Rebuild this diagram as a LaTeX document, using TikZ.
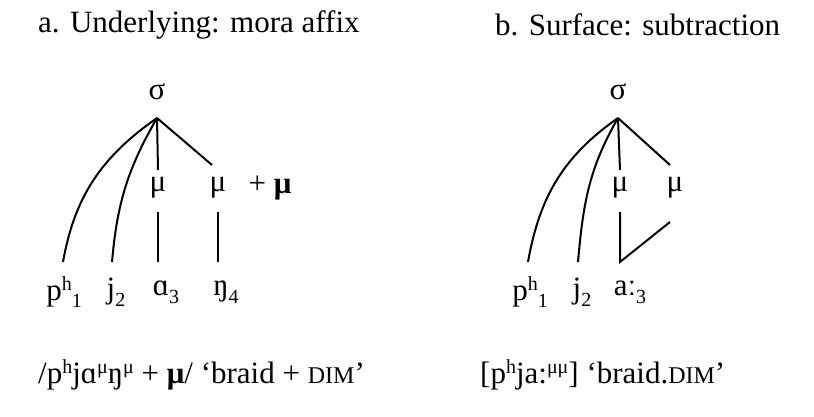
\documentclass[tikz,border=0pt]{standalone}
\usepackage{fontspec}
\setmainfont{Liberation Serif}
\usetikzlibrary{positioning}
\newcommand{\subs}[1]{\raisebox{-0.55ex}{\fontsize{20}{22}\selectfont #1}}
\newcommand{\sups}[1]{\raisebox{0.7ex}{\fontsize{20}{22}\selectfont #1}}
\newcommand{\smcap}[1]{{\fontsize{24}{26}\selectfont #1}}
\begin{document}
\begin{tikzpicture}[x=1pt,y=-1pt,
    seg/.style={font=\fontsize{31}{34}\selectfont, inner sep=1pt},
    title/.style={font=\fontsize{31}{34}\selectfont, anchor=west, inner sep=0pt},
    assoc/.style={line width=2pt}
]
    \useasboundingbox (0,0) rectangle (814,416);
    % a. underlying
    \node[title] (ta) at (38,25) {a. Underlying: mora affix};
    \node[seg] (sa) at (157,92) {σ};
    \node[seg] (ma1) at (158,188) {μ};
    \node[seg] (ma2) at (218,188) {μ};
    \node[seg] (plus) at (270,188) {+ \textbf{μ}};
    \node[seg] (pa) at (64,292) {p\sups{h}\subs{1}};
    \node[seg] (ja) at (116,292) {j\subs{2}};
    \node[seg] (aa) at (166,292) {ɑ\subs{3}};
    \node[seg] (na) at (226,292) {ŋ\subs{4}};
    \node[title] (ga) at (38,375) {/p\sups{h}jɑ\sups{μ}ŋ\sups{μ} + \textbf{μ}/ ‘braid + \smcap{DIM}’};
    \coordinate (ra) at (157,118);
    \draw[assoc] (ra) to[out=215,in=80] (63,262);
    \draw[assoc] (ra) to[out=240,in=85] (112,262);
    \draw[assoc] (ra) -- (158,170);
    \draw[assoc] (ra) -- (212,165);
    \draw[assoc] (158,212) -- (158,262);
    \draw[assoc] (218,212) -- (218,262);
    % b. surface
    \node[title] (tb) at (495,25) {b. Surface: subtraction};
    \node[seg] (sb) at (618,92) {σ};
    \node[seg] (mb1) at (620,188) {μ};
    \node[seg] (mb2) at (675,188) {μ};
    \node[seg] (pb) at (530,292) {p\sups{h}\subs{1}};
    \node[seg] (jb) at (582,292) {j\subs{2}};
    \node[seg] (ab) at (630,292) {aː\subs{3}};
    \node[title] (gb) at (480,375) {[p\sups{h}ja:\sups{μμ}] ‘braid.\smcap{DIM}’};
    \coordinate (rb) at (618,118);
    \draw[assoc] (rb) to[out=215,in=80] (528,262);
    \draw[assoc] (rb) to[out=240,in=85] (578,262);
    \draw[assoc] (rb) -- (620,170);
    \draw[assoc] (rb) -- (670,165);
    \draw[assoc] (620,212) -- (620,262) -- (670,222);
\end{tikzpicture}
\end{document}
